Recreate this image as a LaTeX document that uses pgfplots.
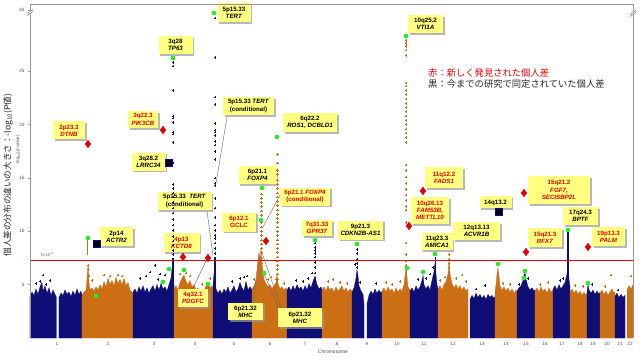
\documentclass[border=0pt]{standalone}
\usepackage{fontspec}
\setmainfont{Liberation Sans}
\newfontfamily\cjk{Noto Sans CJK JP}
\usepackage{pgfplots}
\pgfplotsset{compat=1.18}
\usetikzlibrary{shadows}
\definecolor{navyc}{RGB}{14,14,118}
\definecolor{orc}{RGB}{204,110,20}
\definecolor{yel}{RGB}{255,255,128}
\definecolor{redt}{RGB}{228,0,0}
\definecolor{grn}{RGB}{40,235,40}
\definecolor{axg}{RGB}{150,150,150}
\tikzset{lab/.style={fill=yel, drop shadow={shadow xshift=1.6pt,shadow yshift=-1.6pt,fill=black!40,opacity=0.7}, align=center, font=\fontsize{6.2}{7.2}\selectfont\bfseries, inner sep=1.2pt},
 lead/.style={draw=black!60, line width=0.4pt}}
\begin{document}
\begin{tikzpicture}[x=1pt,y=1pt]
\begin{axis}[at={(0,0)},anchor=south west, scale only axis, width=603pt, height=334pt,
 xmin=30,xmax=633,ymin=0,ymax=31.3, clip=false, axis line style={draw=none},
 xtick={57,108,154,195,234,270,305,337,367,397,424,453,482,506,526,545,562,580,593,607,620,630},
 xticklabels={1,2,3,4,5,6,7,8,9,10,11,12,13,14,15,16,17,18,19,20,21,22},
 ytick={5,10,15,20,25,30.74}, yticklabels={5,10,15,20,25,60},
 xtick style={draw=none}, ytick style={axg, line width=0.4pt}, major tick length=2pt, tick align=outside, tick pos=left,
 ticklabel style={font=\fontsize{4.6}{5}\selectfont, text=black!70},
 xticklabel style={yshift=1pt},
 /pgf/number format/assume math mode=true]

% bulk profiles
\addplot[fill=navyc,draw=navyc,line width=0.3pt] coordinates {(30,0)(30,3.9)(32,4.3)(34,4.0)(36,4.6)(38,4.1)(40,4.8)(42,5.2)(43,4.4)(45,4.9)(47,4.2)(49,4.7)(51,4.0)(53,4.5)(55,4.1)(56.5,3.8)(56.5,0)} --cycle;
\addplot[fill=navyc,draw=navyc,line width=0.3pt] coordinates {(59,0)(59,3.8)(61,4.2)(63,4.0)(65,4.5)(67,4.1)(69,4.3)(71,3.9)(73,4.4)(75,4.0)(77,4.6)(79,4.1)(81,4.4)(82,4.0)(82,0)} --cycle;
\addplot[fill=orc,draw=orc,line width=0.3pt] coordinates {(82,0)(82,4.0)(84,4.3)(86,4.5)(87,5.5)(88,6.8)(89,5.2)(90,4.5)(92,4.7)(94,4.4)(96,4.8)(98,4.5)(100,5.0)(102,4.6)(104,5.3)(106,4.8)(108,5.6)(110,5.0)(112,5.4)(114,4.9)(116,5.7)(118,5.1)(120,5.5)(122,5.0)(124,5.6)(126,4.9)(128,5.2)(130,4.5)(132,4.3)(133,4.2)(133,0)} --cycle;
\addplot[fill=navyc,draw=navyc,line width=0.3pt] coordinates {(133,0)(133,4.3)(135,4.6)(137,4.2)(139,4.8)(141,4.4)(143,4.9)(145,4.3)(147,4.7)(149,4.2)(151,4.6)(153,4.9)(155,4.4)(157,5.0)(159,4.5)(161,5.1)(163,4.6)(165,4.8)(167,4.4)(169,5.0)(171,5.6)(172,6.5)(174,5.0)(174,0)} --cycle;
\addplot[fill=orc,draw=orc,line width=0.3pt] coordinates {(174,0)(174,4.6)(176,4.9)(178,4.5)(180,5.2)(182,5.6)(184,5.9)(186,5.3)(188,5.0)(190,5.4)(192,4.8)(194,5.0)(196,4.5)(198,4.7)(200,4.3)(202,4.6)(204,4.4)(206,4.9)(208,5.2)(210,4.7)(212,4.9)(213,4.6)(213,0)} --cycle;
\addplot[fill=navyc,draw=navyc,line width=0.3pt] coordinates {(213,0)(213,5.0)(214.5,6.5)(216,4.6)(218,4.2)(220,4.5)(222,4.1)(224,4.6)(226,4.3)(228,4.8)(230,4.2)(232,4.5)(234,4.9)(236,4.3)(238,4.6)(240,5.2)(242,4.7)(244,4.4)(246,5.3)(248,4.5)(250,4.8)(252,4.5)(252,0)} --cycle;
\addplot[fill=orc,draw=orc,line width=0.3pt] coordinates {(252,0)(252,4.6)(254,4.9)(256,5.3)(257,6.0)(258,7.2)(259,8.0)(260,7.4)(261,8.3)(262,7.0)(263,6.2)(264,5.5)(266,5.1)(268,4.8)(270,5.0)(272,4.6)(274,4.9)(276,5.2)(277,6.0)(278,5.1)(280,4.6)(282,4.8)(284,4.5)(286,4.7)(287,4.4)(287,0)} --cycle;
\addplot[fill=navyc,draw=navyc,line width=0.3pt] coordinates {(287,0)(287,4.5)(289,4.8)(291,4.4)(293,4.9)(295,4.5)(297,5.0)(299,4.6)(301,4.8)(303,4.4)(305,4.9)(307,4.5)(309,5.1)(311,4.7)(313,5.3)(315,5.8)(317,5.0)(319,4.6)(321,4.8)(322,4.5)(322,0)} --cycle;
\addplot[fill=orc,draw=orc,line width=0.3pt] coordinates {(322,0)(322,4.5)(324,4.8)(326,4.4)(328,4.9)(330,4.5)(332,4.7)(334,4.3)(336,4.8)(338,4.4)(340,4.6)(342,4.9)(344,4.4)(346,4.7)(348,4.3)(350,4.6)(352,4.4)(352,0)} --cycle;
\addplot[fill=navyc,draw=navyc,line width=0.3pt] coordinates {(352,0)(352,4.3)(354,4.7)(356,5.6)(357,6.4)(358,5.8)(359,4.9)(361,4.4)(363,4.1)(364,3.2)(364,0)} --cycle;
\addplot[fill=navyc,draw=navyc,line width=0.3pt] coordinates {(367,0)(367,3.2)(369,4.0)(371,4.4)(373,4.1)(375,4.6)(377,4.2)(379,4.5)(381,4.2)(382,4.4)(382,0)} --cycle;
\addplot[fill=orc,draw=orc,line width=0.3pt] coordinates {(382,0)(382,4.4)(384,4.7)(386,4.3)(388,4.8)(390,4.4)(392,4.6)(394,4.2)(396,4.7)(398,4.3)(400,4.6)(402,4.4)(404,5.0)(405,5.8)(406,6.6)(407,5.7)(408,4.8)(410,4.5)(410,0)} --cycle;
\addplot[fill=navyc,draw=navyc,line width=0.3pt] coordinates {(410,0)(410,4.4)(412,4.7)(414,4.3)(416,4.9)(418,4.5)(420,4.8)(422,5.4)(423,5.9)(424,5.0)(426,4.6)(428,4.9)(430,4.5)(432,5.4)(434,6.2)(435,7.0)(436,6.0)(437,5.0)(438,4.6)(438,0)} --cycle;
\addplot[fill=orc,draw=orc,line width=0.3pt] coordinates {(438,0)(438,4.6)(440,4.9)(442,4.5)(444,5.0)(446,5.3)(448,6.0)(449,7.2)(450,6.0)(452,5.1)(454,4.7)(456,5.0)(458,4.6)(460,4.9)(462,4.5)(464,4.8)(466,4.4)(468,4.6)(468,0)} --cycle;
\addplot[fill=navyc,draw=navyc,line width=0.3pt] coordinates {(470,0)(470,3.6)(472,4.0)(474,3.7)(476,4.2)(478,3.8)(480,4.1)(482,3.7)(484,4.0)(486,3.6)(488,4.1)(490,3.8)(492,4.0)(494,3.7)(495,3.9)(495,0)} --cycle;
\addplot[fill=orc,draw=orc,line width=0.3pt] coordinates {(495,0)(495,4.3)(496,5.0)(497,6.0)(498,6.6)(499,5.8)(500,4.9)(502,4.5)(504,4.8)(506,4.4)(508,4.7)(510,4.3)(512,4.6)(514,4.2)(516,4.5)(517,4.3)(517,0)} --cycle;
\addplot[fill=navyc,draw=navyc,line width=0.3pt] coordinates {(517,0)(517,4.4)(519,4.7)(521,4.9)(523,5.4)(524,5.9)(525,6.1)(526,5.5)(528,4.8)(530,4.5)(532,4.7)(534,4.4)(535,4.5)(535,0)} --cycle;
\addplot[fill=orc,draw=orc,line width=0.3pt] coordinates {(535,0)(535,4.4)(537,4.7)(539,4.3)(541,4.8)(543,4.4)(545,4.6)(547,4.2)(549,4.7)(551,4.3)(553,4.5)(553,0)} --cycle;
\addplot[fill=navyc,draw=navyc,line width=0.3pt] coordinates {(553,0)(553,4.6)(555,4.9)(557,4.5)(559,5.0)(561,4.6)(563,4.9)(565,5.2)(567,6.0)(568,7.0)(569,5.5)(570,4.8)(570,0)} --cycle;
\addplot[fill=orc,draw=orc,line width=0.3pt] coordinates {(570,0)(570,4.3)(572,4.6)(574,4.2)(576,4.5)(578,4.1)(580,4.4)(582,4.0)(584,4.3)(586,4.0)(587,4.2)(587,0)} --cycle;
\addplot[fill=navyc,draw=navyc,line width=0.3pt] coordinates {(587,0)(587,4.3)(588,5.0)(589,4.5)(591,4.2)(593,4.5)(595,4.1)(597,4.4)(599,4.1)(600,4.3)(600,0)} --cycle;
\addplot[fill=orc,draw=orc,line width=0.3pt] coordinates {(600,0)(600,4.2)(602,4.5)(604,4.1)(606,4.4)(608,4.0)(610,4.3)(612,4.6)(614,4.2)(615,4.3)(615,0)} --cycle;
\addplot[fill=navyc,draw=navyc,line width=0.3pt] coordinates {(615,0)(615,3.9)(617,4.2)(619,3.8)(621,4.1)(623,3.8)(625,4.0)(625,0)} --cycle;
\addplot[fill=orc,draw=orc,line width=0.3pt] coordinates {(627,0)(627,4.5)(629,4.9)(631,4.6)(633,5.0)(633,0)} --cycle;

% solid column parts
\addplot[navyc,line width=1.3pt] coordinates {(173,4.5)(173,7.5)};
\addplot[navyc,line width=1.3pt] coordinates {(215,4.5)(215,7.6)};
\addplot[navyc,line width=1.4pt] coordinates {(568,4.5)(568,10.0)};
\addplot[navyc,line width=1.0pt] coordinates {(435,5.0)(435,7.6)};
\addplot[orc,line width=1.0pt] coordinates {(88,7.8)(88,9.2)};
\addplot[orc,line width=1.0pt] coordinates {(406,4.5)(406,6.5)};

% scattered navy points
\addplot[navyc,only marks,mark=+,mark size=1.3pt,line width=0.6pt] coordinates {
(43,5.9)(50,5.4)(46,5.0)(40,5.3)(36,5.1)(140,5.6)(146,5.8)(150,6.2)(155,6.8)(158,5.5)(165,5.9)(160,6.0)
(232,5.3)(240,5.6)(247,5.8)(244,5.7)(296,5.4)(303,5.3)(308,5.6)(312,6.1)(355,6.9)(360,5.2)(376,5.1)
(418,5.5)(426,5.6)(430,6.0)(433,6.6)(476,4.6)(485,4.9)(519,5.0)(528,5.6)(560,5.4)(563,5.6)(592,5.0)(618,4.5)
(173,7.8)(173,8.2)(173,8.7)(173,9.1)(173,9.5)(173,10.1)(173,10.6)(173,11.1)(173,11.7)(173,12.2)(173,12.7)(173,13.2)(173,13.6)(173,14.0)(173,14.4)(173,16.4)(173,18.3)(173,19.1)(173,19.3)(173,20.2)(173,20.6)(173,20.8)(173,23.2)(173,25.5)(173,25.8)
(215,7.9)(215,8.4)(215,8.9)(215,9.3)(215,9.6)(215,10.1)(215,10.6)(215,11.3)(215,12.2)(215,13.1)(215,14.3)(215,14.5)(215,15.0)(215,16.7)(215,17.5)(215,18.1)(215,18.4)(215,19.0)(215,19.3)(215,19.5)(215,20.1)(215,21.9)(215,22.6)(215,26.3)(215,30.0)
(315,5.6)(315,6.1)(315,6.6)(315,7.1)(315,7.6)(315,7.9)(315,8.2)(315,8.5)(315,8.9)
(357,6.0)(357,6.6)(357,7.0)(357,7.4)(357,7.9)(357,8.3)};

% scattered orange points
\addplot[orc,only marks,mark=+,mark size=1.3pt,line width=0.6pt] coordinates {
(104,5.9)(110,5.8)(118,5.9)(122,5.8)(88,5.6)(88,6.0)(88,6.4)(88,6.8)(89,5.8)(92,5.4)
(180,6.0)(186,6.1)(190,5.8)(202,5.0)(210,5.6)(254,5.5)(268,5.5)(271,5.7)(276,5.5)(284,5.1)
(328,5.3)(333,5.5)(340,5.2)(347,5.1)(386,5.2)(392,5.0)(400,5.3)(440,5.4)(445,5.7)(456,5.6)(462,5.9)(466,5.3)
(503,5.1)(510,5.0)(540,5.0)(548,5.2)(575,4.9)(583,4.8)(605,4.8)(611,5.9)(631,5.8)
(449,6.6)(449,7.0)(449,7.4)(449,7.8)
(261.5,6.0)(261.5,6.5)(261.5,7.0)(261.5,7.5)(261.5,8.0)(261.5,8.4)(261.5,8.8)(261.5,9.2)(261.5,9.6)(261.5,10.0)(261.5,10.4)(261.5,10.8)(261.5,11.5)(261.5,11.9)(261.5,12.3)(261.5,12.7)(261.5,13.1)(261.5,13.5)
(277.5,5.5)(277.5,6.0)(277.5,6.4)(277.5,6.8)(277.5,7.2)(277.5,7.6)(277.5,8.0)(277.5,8.4)(277.5,8.8)(277.5,9.2)(277.5,9.6)(277.5,10.0)(277.5,10.4)(277.5,10.8)(277.5,11.2)(277.5,11.6)(277.5,12.0)(277.5,12.4)(277.5,12.8)(277.5,13.2)(277.5,13.6)(277.5,14.0)(277.5,14.4)(277.5,14.8)(277.5,15.3)(277.5,15.7)(277.5,16.4)(277.5,17.2)
(406,6.8)(406,7.2)(406,7.8)(406,8.9)(406,10.8)(406,12.0)(406,12.3)(406,12.9)(406,13.4)(406,13.9)(406,14.5)(406,15.1)(406,15.7)(406,16.2)(406,18.3)(406,18.8)(406,19.2)(406,19.6)(406,20.0)(406,20.4)(406,20.8)(406,21.2)(406,21.6)(406,22.0)(406,22.4)(406,22.8)(406,23.2)(406,23.6)(406,23.9)(406,26.5)(406,27.0)(406,27.3)(406,27.6)(406,27.9)(406,28.2)};

% genome-wide threshold
\addplot[redt,line width=0.7pt] coordinates {(30,7.3)(633,7.3)};
\node[font=\fontsize{4.3}{5}\selectfont,text=black!60] at (axis cs:47,7.85) {5×10\textsuperscript{-8}};

% leader lines
\draw[lead] (axis cs:227,20.71) -- (axis cs:216,14.5);
\draw[lead] (axis cs:207,11.9) -- (axis cs:213,7.7);
\draw[draw=navyc!70,line width=0.4pt] (axis cs:193,4.69) -- (axis cs:207,7.4);
\draw[lead] (axis cs:280,13.4) -- (axis cs:263,10.4);
\draw[lead] (axis cs:253,3.3) -- (axis cs:259,7.9);
\draw[lead] (axis cs:281,2.8) -- (axis cs:262,8.0);
\draw[lead] (axis cs:279,2.8) -- (axis cs:264,6.0);

% markers
\addplot[only marks,mark=diamond*,mark size=3.8pt,color=redt] coordinates {(88,18.18)(163,19.49)(183,7.59)(208,7.5)(266,9.09)(409,10.5)(423,13.78)(524,13.59)(526,8.06)(588,8.53)};
\addplot[only marks,mark=square*,mark size=3.6pt,color=black,mark options={draw=navyc!60!blue,line width=0.5pt}] coordinates {(97,8.81)(169,16.4)(499,11.81)};
\addplot[only marks,mark=*,mark size=2.1pt,color=grn] coordinates {(88,9.37)(96,3.94)(173,26.24)(163,5.25)(169,6.47)(184,6.37)(208,5.06)(214,30.46)(262,14.06)(261,11.06)(264,6.09)(277,18.84)(315,9.18)(357,8.81)(406,28.3)(407,6.56)(423,6.19)(435,7.87)(498,6.94)(525,6.28)(524,5.62)(568,10.12)(588,5.15)};

% label boxes
\node[lab,text=redt,minimum width=32pt,minimum height=18pt] at (axis cs:69,19.45) {2p23.3\\\textit{DTNB}};
\node[lab,minimum width=34pt,minimum height=18pt] at (axis cs:175.5,27.46) {3q28\\\textit{TP63}};
\node[lab,text=redt,minimum width=30pt,minimum height=17pt] at (axis cs:143,20.48) {3q22.3\\\textit{PIK3CB}};
\node[lab,minimum width=34pt,minimum height=18pt] at (axis cs:148.5,16.54) {3q28.2\\\textit{LRRC34}};
\node[lab,minimum width=33pt,minimum height=19pt] at (axis cs:234,30.5) {5p15.33\\\textit{TERT}};
\node[lab,minimum width=51pt,minimum height=18pt] at (axis cs:248.5,21.74) {5p15.33 \textit{TERT}\\(conditional)};
\node[lab,minimum width=54pt,minimum height=18pt] at (axis cs:184.5,12.84) {5p15.33\ \ \textit{TERT}\\(conditional)};
\node[lab,minimum width=54pt,minimum height=19pt] at (axis cs:310,20.2) {6q22.2\\\textit{ROS1}, \textit{DCBLD1}};
\node[lab,minimum width=38pt,minimum height=18pt] at (axis cs:257.5,15.28) {6p21.1\\\textit{FOXP4}};
\node[lab,text=redt,minimum width=50pt,minimum height=18pt] at (axis cs:305,13.26) {6p21.1 \textit{FOXP4}\\(conditional)};
\node[lab,text=redt,minimum width=34pt,minimum height=19pt] at (axis cs:239,10.87) {6p12.1\\GCLC};
\node[lab,text=redt,minimum width=36pt,minimum height=19pt] at (axis cs:181.5,8.95) {4p13\\\textit{KCTD8}};
\node[lab,text=redt,minimum width=30pt,minimum height=18pt] at (axis cs:193,3.75) {4q32.1\\\textit{PDGFC}};
\node[lab,minimum width=33pt,minimum height=19pt] at (axis cs:116.5,9.51) {2p14\\\textit{ACTR2}};
\node[lab,minimum width=35pt,minimum height=17pt] at (axis cs:245.5,2.48) {6p21.32\\\textit{MHC}};
\node[lab,minimum width=44pt,minimum height=19pt] at (axis cs:300,1.92) {6p21.32\\\textit{MHC}};
\node[lab,text=redt,minimum width=30pt,minimum height=16pt] at (axis cs:317,10.3) {7q31.33\\\textit{GPR37}};
\node[lab,minimum width=45pt,minimum height=19pt] at (axis cs:360.5,10.12) {9p21.3\\\textit{CDKN2B-AS1}};
\node[lab,minimum width=35pt,minimum height=18pt] at (axis cs:425.5,29.43) {10q25.2\\\textit{VTI1A}};
\node[lab,text=redt,minimum width=38pt,minimum height=21pt] at (axis cs:444,15.0) {11q12.2\\\textit{FADS1}};
\node[lab,text=redt,minimum width=38pt,minimum height=27pt] at (axis cs:430,11.95) {10q26.13\\\textit{FAM53B,}\\\textit{METTL10}};
\node[lab,minimum width=31pt,minimum height=17pt] at (axis cs:437,9.04) {11q23.3\\\textit{AMICA1}};
\node[lab,minimum width=47pt,minimum height=18pt] at (axis cs:476.5,10.03) {12q13.13\\\textit{ACVR1B}};
\node[lab,minimum width=32pt,minimum height=12pt] at (axis cs:495.5,12.7) {14q13.2};
\node[lab,text=redt,minimum width=62pt,minimum height=28pt] at (axis cs:559,13.87) {15q21.2\\[1pt]\textit{FGF7,}\\\textit{SECISBP2L}};
\node[lab,text=redt,minimum width=34pt,minimum height=19pt] at (axis cs:545,9.42) {15q21.3\\\textit{RFX7}};
\node[lab,minimum width=35pt,minimum height=18pt] at (axis cs:580.5,11.43) {17q24.3\\\textit{BPTF}};
\node[lab,text=redt,minimum width=33pt,minimum height=19pt] at (axis cs:608.5,9.47) {19p13.3\\\textit{PALM}};

% legend text
\node[anchor=west,text=redt,font=\cjk\fontsize{9.3}{10}\selectfont,inner sep=0pt] at (axis cs:428,24.85) {赤：新しく発見された個人差};
\node[anchor=west,text=black!85,font=\cjk\fontsize{9.3}{10}\selectfont,inner sep=0pt] at (axis cs:428,23.8) {黒：今までの研究で同定されていた個人差};
\end{axis}
% frame lines
\draw[axg,line width=0.5pt] (0,0) -- (0,334) -- (603,334) -- (603,0);
% axis breaks
\fill[white] (-3,322.5) -- (3,326.5) -- (3,328.5) -- (-3,324.5) -- cycle;
\draw[black!70,line width=0.4pt] (-3,322.5) -- (3,326.5) (-3,324.5) -- (3,328.5);
\fill[white] (600,321.5) -- (606,325.5) -- (606,327.5) -- (600,323.5) -- cycle;
\draw[black!70,line width=0.4pt] (600,321.5) -- (606,325.5) (600,323.5) -- (606,327.5);
% axis titles
\node[rotate=90,font=\cjk\fontsize{8.6}{9}\selectfont,text=black!85] at (-22,163) {個人差の分布の違いの大きさ：-log\textsubscript{10}(P値)};
\node[rotate=90,font=\fontsize{4.5}{5}\selectfont,text=black!70] at (-12,188) {-log\textsubscript{10}(p-value)};
\node[font=\fontsize{5}{6}\selectfont,text=black!70] at (303,-14) {Chromosome};
\pgfresetboundingbox
\path[use as bounding box] (-30,-22) rectangle (610,338);
\end{tikzpicture}
\end{document}
